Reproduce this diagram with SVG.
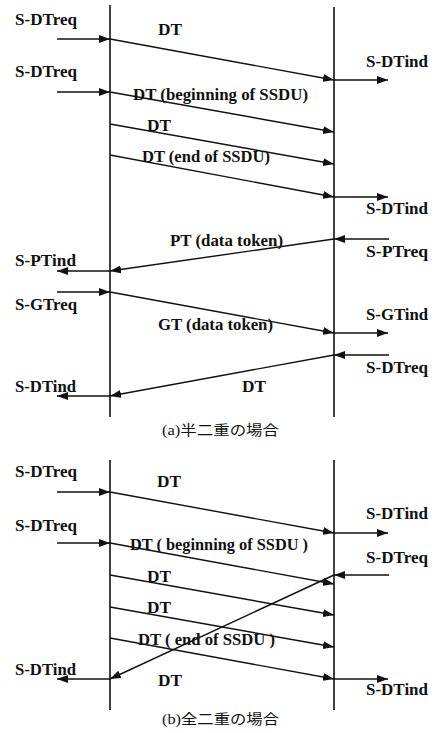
<svg xmlns="http://www.w3.org/2000/svg" width="437" height="733" viewBox="0 0 437 733" font-family="Liberation Serif, DejaVu Serif, Noto Sans CJK JP, serif">
<style>
text{font-size:16px;fill:#111;font-weight:bold}
.cap{font-size:14px;font-weight:normal}
.life{stroke:#111;stroke-width:1.6;fill:none}
.c line{stroke:#111;stroke-width:1.4;fill:none;marker-end:url(#ah)}
</style>
<defs>
<marker id="ah" markerUnits="userSpaceOnUse" markerWidth="11" markerHeight="8" refX="11" refY="4" orient="auto">
<path d="M0,0 L11,4 L0,8 z" fill="#111"/>
</marker>
</defs>
<rect width="437" height="733" fill="#fff"/>
<g id="lifelines-a">
<line class="life" x1="110" y1="5" x2="110" y2="417"/>
<line class="life" x1="334" y1="7" x2="334" y2="417"/>
</g>
<g id="lifelines-b">
<line class="life" x1="110" y1="460" x2="110" y2="710"/>
<line class="life" x1="334" y1="460" x2="334" y2="710"/>
</g>
<g id="connectors" class="c">
<line x1="57" y1="39" x2="110" y2="39"/>
<line x1="110" y1="39" x2="334" y2="80"/>
<line x1="334" y1="80" x2="388" y2="80"/>
<line x1="57" y1="92" x2="110" y2="92"/>
<line x1="110" y1="92" x2="334" y2="132"/>
<line x1="110" y1="124" x2="334" y2="164"/>
<line x1="110" y1="155" x2="334" y2="197"/>
<line x1="334" y1="197" x2="388" y2="197"/>
<line x1="389" y1="239" x2="334" y2="239"/>
<line x1="334" y1="239" x2="110" y2="271"/>
<line x1="110" y1="271" x2="57" y2="271"/>
<line x1="57" y1="292" x2="110" y2="292"/>
<line x1="110" y1="292" x2="334" y2="333"/>
<line x1="334" y1="333" x2="388" y2="333"/>
<line x1="389" y1="355" x2="334" y2="355"/>
<line x1="334" y1="355" x2="110" y2="396"/>
<line x1="110" y1="396" x2="57" y2="396"/>
<line x1="57" y1="492" x2="110" y2="492"/>
<line x1="110" y1="492" x2="334" y2="533"/>
<line x1="334" y1="533" x2="388" y2="533"/>
<line x1="57" y1="543" x2="110" y2="543"/>
<line x1="110" y1="543" x2="334" y2="584"/>
<line x1="110" y1="575" x2="334" y2="615"/>
<line x1="110" y1="607" x2="334" y2="647"/>
<line x1="110" y1="638" x2="334" y2="679"/>
<line x1="334" y1="679" x2="388" y2="679"/>
<line x1="389" y1="575" x2="334" y2="575"/>
<line x1="334" y1="575" x2="110" y2="679"/>
<line x1="110" y1="679" x2="57" y2="679"/>
</g>
<g id="labels-a">
<text x="15" y="25" textLength="62" lengthAdjust="spacingAndGlyphs">S-DTreq</text>
<text x="158" y="35" textLength="24" lengthAdjust="spacingAndGlyphs">DT</text>
<text x="366" y="67" textLength="62" lengthAdjust="spacingAndGlyphs">S-DTind</text>
<text x="15" y="77" textLength="62" lengthAdjust="spacingAndGlyphs">S-DTreq</text>
<text x="133" y="100" textLength="175" lengthAdjust="spacingAndGlyphs">DT (beginning of SSDU)</text>
<text x="147" y="131" textLength="24" lengthAdjust="spacingAndGlyphs">DT</text>
<text x="142" y="162" textLength="128" lengthAdjust="spacingAndGlyphs">DT (end of SSDU)</text>
<text x="366" y="214" textLength="62" lengthAdjust="spacingAndGlyphs">S-DTind</text>
<text x="170" y="246" textLength="113" lengthAdjust="spacingAndGlyphs">PT (data token)</text>
<text x="366" y="257" textLength="62" lengthAdjust="spacingAndGlyphs">S-PTreq</text>
<text x="15" y="266" textLength="61" lengthAdjust="spacingAndGlyphs">S-PTind</text>
<text x="15" y="310" textLength="62" lengthAdjust="spacingAndGlyphs">S-GTreq</text>
<text x="366" y="320" textLength="62" lengthAdjust="spacingAndGlyphs">S-GTind</text>
<text x="158" y="330" textLength="115" lengthAdjust="spacingAndGlyphs">GT (data token)</text>
<text x="366" y="373" textLength="62" lengthAdjust="spacingAndGlyphs">S-DTreq</text>
<text x="242" y="392" textLength="24" lengthAdjust="spacingAndGlyphs">DT</text>
<text x="15" y="392" textLength="61" lengthAdjust="spacingAndGlyphs">S-DTind</text>
<text class="cap" x="162" y="435" textLength="117" lengthAdjust="spacingAndGlyphs">(a)半二重の場合</text>
</g>
<g id="labels-b">
<text x="15" y="477" textLength="62" lengthAdjust="spacingAndGlyphs">S-DTreq</text>
<text x="157" y="487" textLength="24" lengthAdjust="spacingAndGlyphs">DT</text>
<text x="366" y="519" textLength="62" lengthAdjust="spacingAndGlyphs">S-DTind</text>
<text x="15" y="531" textLength="62" lengthAdjust="spacingAndGlyphs">S-DTreq</text>
<text x="130" y="550" textLength="178" lengthAdjust="spacingAndGlyphs">DT ( beginning of SSDU )</text>
<text x="366" y="563" textLength="62" lengthAdjust="spacingAndGlyphs">S-DTreq</text>
<text x="147" y="582" textLength="24" lengthAdjust="spacingAndGlyphs">DT</text>
<text x="147" y="613" textLength="24" lengthAdjust="spacingAndGlyphs">DT</text>
<text x="138" y="645" textLength="137" lengthAdjust="spacingAndGlyphs">DT ( end of SSDU )</text>
<text x="15" y="675" textLength="61" lengthAdjust="spacingAndGlyphs">S-DTind</text>
<text x="158" y="686" textLength="24" lengthAdjust="spacingAndGlyphs">DT</text>
<text x="366" y="695" textLength="62" lengthAdjust="spacingAndGlyphs">S-DTind</text>
<text class="cap" x="162" y="724" textLength="117" lengthAdjust="spacingAndGlyphs">(b)全二重の場合</text>
</g>
</svg>
